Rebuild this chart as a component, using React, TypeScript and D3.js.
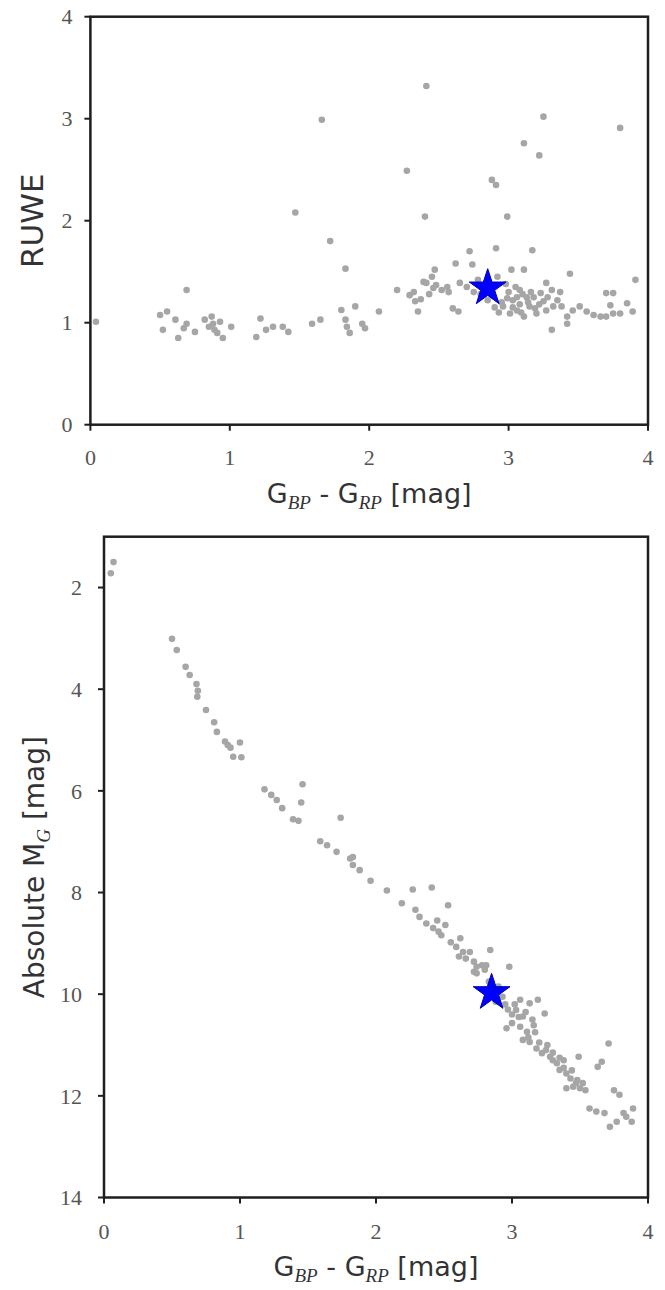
import React from "react";
import * as d3 from "d3";

// ---------- DATA ----------
// Top panel: RUWE vs colour
const ruweColor = [
  0.04, 0.69,
  0.50, 0.55, 0.61, 0.69, 0.67, 0.52, 0.63, 0.75, 0.82, 0.87, 0.88, 0.89, 0.93, 0.91, 0.95, 1.01, 0.85,
  1.22, 1.19, 1.26, 1.31, 1.38, 1.42,
  1.59, 1.65,
  1.80, 1.90, 1.83, 1.84, 1.86, 1.95, 1.97, 2.07,
  2.20, 2.29, 2.32, 2.33, 2.35,
  2.39, 2.41, 2.45, 2.47, 2.46, 2.48, 2.52, 2.56, 2.60, 2.64,
  2.62, 2.72, 2.91, 3.17, 2.74, 2.65, 2.70, 3.02, 3.11, 3.44, 3.91,
  2.96, 3.01, 3.06, 3.11, 3.15, 3.18, 3.23, 3.27, 3.31, 3.37, 3.20, 3.27, 3.32, 3.25, 3.13, 3.06, 3.08,
  3.31,
  3.38, 3.42, 3.46, 3.51, 3.56, 3.61, 3.66, 3.70, 3.75, 3.80, 3.85, 3.89, 3.70, 3.75, 3.73, 3.42,
  2.41, 1.66, 3.25, 3.80, 3.11, 3.22, 2.27, 2.88, 2.91, 1.47, 2.40, 2.99, 1.72, 1.83,
  2.78, 2.80, 2.92, 2.95, 2.98, 3.00, 3.03, 2.90, 2.93, 3.05, 3.08, 2.85, 2.75,
  3.03, 3.09, 3.14, 3.19, 3.22, 2.99, 3.16, 3.28, 3.35, 3.10, 2.43, 2.37, 2.57,
];
const ruweValue = [
  1.01, 1.32,
  1.075, 1.11, 1.03, 0.99, 0.945, 0.93, 0.85, 0.91, 1.03, 1.06, 0.99, 0.93, 1.01, 0.90, 0.85, 0.96, 0.96,
  1.04, 0.86, 0.93, 0.96, 0.96, 0.91,
  0.99, 1.03,
  1.125, 1.16, 1.03, 0.96, 0.90, 0.99, 0.945, 1.11,
  1.32, 1.27, 1.30, 1.21, 1.11,
  1.40, 1.39, 1.45, 1.52, 1.34, 1.37, 1.32, 1.35, 1.14, 1.11,
  1.58, 1.70, 1.73, 1.71, 1.57, 1.39, 1.35, 1.52, 1.52, 1.48, 1.42,
  1.16, 1.09, 1.12, 1.06, 1.16, 1.25, 1.29, 1.39, 1.32, 1.30, 1.09, 1.12, 1.16, 1.21, 1.25, 1.25, 1.32,
  0.93,
  1.16, 1.06, 1.12, 1.16, 1.11, 1.075, 1.06, 1.06, 1.09, 1.09, 1.19, 1.11, 1.29, 1.29, 1.17, 0.99,
  3.32, 2.99, 3.02, 2.91, 2.76, 2.64, 2.49, 2.40, 2.35, 2.08, 2.04, 2.04, 1.80, 1.53,
  1.42, 1.28, 1.45, 1.20, 1.38, 1.30, 1.22, 1.15, 1.10, 1.35, 1.18, 1.22, 1.30,
  1.15, 1.10, 1.20, 1.14, 1.18, 1.24, 1.30, 1.25, 1.22, 1.28, 1.28, 1.23, 1.30,
];

// Bottom panel: colour-magnitude diagram
const cmdColor = [
  0.07, 0.05,
  0.50, 0.535, 0.60, 0.63, 0.68, 0.69, 0.686, 0.75, 0.81, 0.83,
  0.89, 0.91, 1.00, 0.95, 1.01, 0.93,
  1.18, 1.23, 1.27, 1.31, 1.39, 1.43, 1.46, 1.45, 1.74,
  1.59, 1.64, 1.71, 1.83, 1.81, 1.83, 1.88, 1.96, 2.08, 2.27, 2.41, 2.19, 2.53,
  2.29, 2.32, 2.37, 2.42, 2.46, 2.51, 2.48,
  2.62, 2.59, 2.64, 2.69, 2.61, 2.84,
  2.72, 2.74, 2.78, 2.80, 2.72, 2.81, 2.74, 2.98,
  2.83, 2.90, 2.93, 2.88, 2.97,
  3.06, 3.13, 3.19, 3.24, 3.03, 3.08, 3.00, 2.96, 3.06, 3.11, 3.16, 3.08, 3.13, 3.18, 3.22, 3.25,
  3.28, 3.30, 3.33, 3.38, 3.35, 3.40, 3.43, 3.48, 3.45, 3.50, 3.54, 3.40,
  3.49, 3.71, 3.66, 3.63, 3.75, 3.79, 3.57, 3.62, 3.68, 3.82, 3.89, 3.84, 3.88, 3.77, 3.72,
  3.02, 3.10, 3.15, 3.05, 3.12, 3.20, 3.17, 3.26, 3.30, 3.35, 3.38, 3.44, 3.47, 3.52, 2.95, 3.00,
  2.55, 2.66, 2.45,
];
const cmdMag = [
  1.50, 1.72,
  3.01, 3.23, 3.56, 3.72, 3.90, 4.03, 4.15, 4.41, 4.65, 4.84,
  5.03, 5.10, 5.05, 5.33, 5.34, 5.15,
  5.97, 6.08, 6.18, 6.34, 6.56, 6.59, 5.87, 6.23, 6.53,
  6.99, 7.07, 7.20, 7.30, 7.33, 7.46, 7.56, 7.77, 7.96, 7.94, 7.90, 8.21, 8.25,
  8.34, 8.48, 8.61, 8.70, 8.77, 8.64, 8.84,
  8.90, 9.07, 9.17, 9.17, 9.26, 9.13,
  9.36, 9.46, 9.43, 9.52, 9.56, 9.43, 9.59, 9.46,
  9.75, 9.85, 10.05, 10.15, 10.30,
  10.11, 10.18, 10.11, 10.38, 10.31, 10.44, 10.57, 10.67, 10.64, 10.74, 10.61, 10.90, 10.94, 11.07, 11.16, 11.10,
  11.23, 11.30, 11.36, 11.30, 11.49, 11.56, 11.66, 11.69, 11.82, 11.85, 11.89, 11.85,
  11.23, 10.97, 11.33, 11.43, 11.89, 11.98, 12.25, 12.31, 12.34, 12.34, 12.25, 12.41, 12.51, 12.51, 12.61,
  10.20, 10.35, 10.50, 10.45, 10.85, 10.95, 10.75, 11.00, 11.15, 11.25, 11.45, 11.50, 11.75, 11.75, 10.20, 10.40,
  8.98, 9.30, 8.55,
];

// Highlighted target
const starColor = 2.85;
const starRuwe = 1.34;
const starMag = 9.97;

// Ticks
const xTicks = [0, 1, 2, 3, 4];
const ruweTicks = [0, 1, 2, 3, 4];
const magTicks = [2, 4, 6, 8, 10, 12, 14];

// ---------- LAYOUT ----------
const W = 665;
const H = 1290;
const top = { left: 90.4, right: 648, top: 16.7, bottom: 424.7 };
const bot = { left: 104, right: 648, top: 536.7, bottom: 1197.5 };

const tickFont = "'Liberation Serif', 'DejaVu Serif', serif";
const labelFont = "'DejaVu Sans', sans-serif";
const grey = "#a6a6a6";
const axisCol = "#1e1e1e";
const tickTextCol = "#555";

function XLabel({ x, y }: { x: number; y: number }) {
  return (
    <text x={x} y={y} textAnchor="middle" fontFamily={labelFont} fontSize={27} fill="#333">
      G
      <tspan fontFamily={tickFont} fontStyle="italic" fontSize={19} dy={6}>BP</tspan>
      <tspan dy={-6}> - G</tspan>
      <tspan fontFamily={tickFont} fontStyle="italic" fontSize={19} dy={6}>RP</tspan>
      <tspan dy={-6}> [mag]</tspan>
    </text>
  );
}

export default function App() {
  const xT = d3.scaleLinear().domain([0, 4]).range([top.left, top.right]);
  const yT = d3.scaleLinear().domain([0, 4]).range([top.bottom, top.top]);
  const xB = d3.scaleLinear().domain([0, 4]).range([bot.left, bot.right]);
  const yB = d3.scaleLinear().domain([1, 14]).range([bot.top, bot.bottom]);

  const starPath = d3.symbol().type(d3.symbolStar).size(420)() as string;
  const tickLen = 6;
  const r = 3.3;

  return (
    <svg
      width={W}
      height={H}
      style={{ position: "absolute", left: 0, top: 0, background: "#fff" }}
    >
      <rect x={0} y={0} width={W} height={H} fill="#fff" />

      {/* ---------- TOP PANEL ---------- */}
      <g>
        {ruweColor.map((c, i) => (
          <circle key={i} cx={xT(c)} cy={yT(ruweValue[i])} r={r} fill={grey} />
        ))}
        <path
          d={starPath}
          transform={`translate(${xT(starColor)},${yT(starRuwe)})`}
          fill="#0000ff"
          stroke="#0000b0"
          strokeWidth={1}
        />
        <rect
          x={top.left}
          y={top.top}
          width={top.right - top.left}
          height={top.bottom - top.top}
          fill="none"
          stroke={axisCol}
          strokeWidth={2.5}
        />
        {ruweTicks.map((t) => (
          <g key={"ry" + t}>
            <line x1={top.left - tickLen} x2={top.left} y1={yT(t)} y2={yT(t)} stroke={axisCol} strokeWidth={2} />
            <text x={top.left - 18} y={yT(t)} dy="0.35em" textAnchor="end" fontFamily={tickFont} fontSize={22} fill={tickTextCol}>
              {t}
            </text>
          </g>
        ))}
        {xTicks.map((t) => (
          <g key={"rx" + t}>
            <line x1={xT(t)} x2={xT(t)} y1={top.bottom} y2={top.bottom + tickLen} stroke={axisCol} strokeWidth={2} />
            <text x={xT(t)} y={top.bottom + 40} textAnchor="middle" fontFamily={tickFont} fontSize={22} fill={tickTextCol}>
              {t}
            </text>
          </g>
        ))}
        <XLabel x={(top.left + top.right) / 2} y={top.bottom + 78} />
        <text
          transform={`translate(43,${(top.top + top.bottom) / 2}) rotate(-90)`}
          textAnchor="middle"
          fontFamily={labelFont}
          fontSize={31}
          fill="#333"
        >
          RUWE
        </text>
      </g>

      {/* ---------- BOTTOM PANEL ---------- */}
      <g>
        {cmdColor.map((c, i) => (
          <circle key={i} cx={xB(c)} cy={yB(cmdMag[i])} r={r} fill={grey} />
        ))}
        <path
          d={starPath}
          transform={`translate(${xB(starColor)},${yB(starMag)})`}
          fill="#0000ff"
          stroke="#0000b0"
          strokeWidth={1}
        />
        <rect
          x={bot.left}
          y={bot.top}
          width={bot.right - bot.left}
          height={bot.bottom - bot.top}
          fill="none"
          stroke={axisCol}
          strokeWidth={2.5}
        />
        {magTicks.map((t) => (
          <g key={"my" + t}>
            <line x1={bot.left - tickLen} x2={bot.left} y1={yB(t)} y2={yB(t)} stroke={axisCol} strokeWidth={2} />
            <text x={bot.left - 22} y={yB(t)} dy="0.35em" textAnchor="end" fontFamily={tickFont} fontSize={22} fill={tickTextCol}>
              {t}
            </text>
          </g>
        ))}
        {xTicks.map((t) => (
          <g key={"mx" + t}>
            <line x1={xB(t)} x2={xB(t)} y1={bot.bottom} y2={bot.bottom + tickLen} stroke={axisCol} strokeWidth={2} />
            <text x={xB(t)} y={bot.bottom + 41} textAnchor="middle" fontFamily={tickFont} fontSize={22} fill={tickTextCol}>
              {t}
            </text>
          </g>
        ))}
        <XLabel x={(bot.left + bot.right) / 2} y={bot.bottom + 78} />
        <text
          transform={`translate(44,${(bot.top + bot.bottom) / 2}) rotate(-90)`}
          textAnchor="middle"
          fontFamily={labelFont}
          fontSize={28}
          fill="#333"
        >
          Absolute M
          <tspan fontFamily={tickFont} fontStyle="italic" fontSize={19} dy={6}>G</tspan>
          <tspan dy={-6}> [mag]</tspan>
        </text>
      </g>
    </svg>
  );
}
